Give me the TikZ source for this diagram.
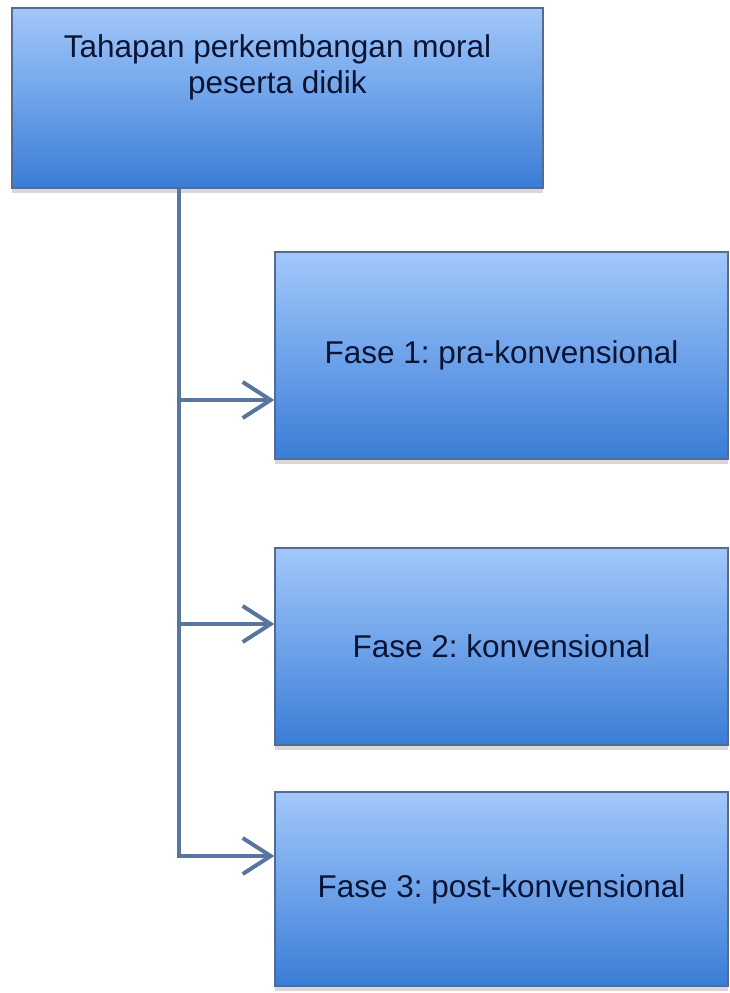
\documentclass[tikz,border=0pt]{standalone}
\usepackage{fontspec}
\setmainfont{Liberation Sans}
\usetikzlibrary{arrows.meta,shadows}
\frenchspacing

\definecolor{boxtop}{RGB}{162,199,250}
\definecolor{boxbot}{RGB}{58,124,214}
\definecolor{boxmid}{RGB}{110,163,234}
\definecolor{boxedge}{RGB}{84,108,145}
\definecolor{connector}{RGB}{88,117,160}
\definecolor{labeltext}{RGB}{12,20,52}

\tikzset{
  phasebox/.style={
    draw=boxedge, line width=1.2pt,
    top color=boxtop, bottom color=boxbot, middle color=boxmid,
    drop shadow={shadow xshift=0pt, shadow yshift=-5pt, opacity=0.22, fill=black!70},
    inner sep=0pt, text=labeltext,
    font=\fontsize{31.5}{36}\selectfont
  },
  heading/.style={
    text=labeltext, align=center, inner sep=0pt,
    font=\fontsize{31.5}{36}\selectfont
  },
  conn/.style={draw=connector, line width=4pt, line join=miter},
  tip/.style={-{Straight Barb[length=28pt, width=36pt, line width=4pt]}}
}

\begin{document}
\begin{tikzpicture}[x=1pt, y=-1pt]
  \useasboundingbox (0,0) rectangle (730,993);

  % top box with its two-line title
  \node[phasebox, minimum width=531pt, minimum height=180pt] (top) at (277.5,98) {};
  \node[heading] (title) at (277.5,67) {Tahapan perkembangan moral\\peserta didik};

  % the three phases
  \node[phasebox, minimum width=453pt, minimum height=207pt] (f1) at (501.5,355.5)
    {Fase 1: pra-konvensional};
  \node[phasebox, minimum width=453pt, minimum height=197pt] (f2) at (501.5,646.5)
    {Fase 2: konvensional};
  \node[phasebox, minimum width=453pt, minimum height=194pt] (f3) at (501.5,889)
    {Fase 3: post-konvensional};

  % branching points on the trunk
  \coordinate (j1) at (179,400);
  \coordinate (j2) at (179,624);
  \coordinate (j3) at (179,856);

  % trunk and branches
  \draw[conn, tip] (top.south -| j3) -- (j3) -- (f3.west |- j3);
  \draw[conn, tip] (j1) -- (f1.west |- j1);
  \draw[conn, tip] (j2) -- (f2.west |- j2);
\end{tikzpicture}
\end{document}
